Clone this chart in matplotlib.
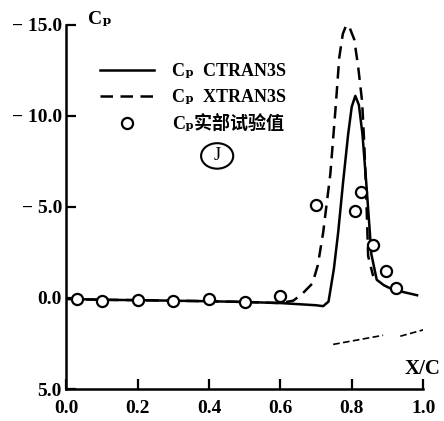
import matplotlib
matplotlib.use('Agg')
import matplotlib.pyplot as plt
from matplotlib.patches import Ellipse

plt.rcParams['font.family'] = ['Liberation Serif', 'DejaVu Serif', 'Noto Sans CJK SC']

# Datos
# CTRAN3S (linea continua)
x_ct = [0.0, 0.1, 0.2, 0.3, 0.4, 0.5, 0.6, 0.7, 0.72, 0.735, 0.75, 0.762, 0.776, 0.79, 0.80, 0.81,
        0.82, 0.83, 0.84, 0.85, 0.855, 0.87, 0.89, 0.916, 0.95, 0.983]
cp_ct = [0.05, 0.1, 0.12, 0.15, 0.18, 0.22, 0.28, 0.4, 0.45, 0.2, -1.6, -3.6, -6.4, -9.0, -10.5, -11.1,
         -10.6, -9.0, -6.5, -3.8, -2.4, -1.0, -0.7, -0.45, -0.3, -0.15]

# XTRAN3S (linea discontinua)
x_xt = [0.0, 0.1, 0.2, 0.3, 0.4, 0.5, 0.6, 0.636, 0.66, 0.69, 0.705, 0.72, 0.74, 0.755, 0.765, 0.775,
        0.785, 0.795, 0.807, 0.818, 0.829, 0.835, 0.84, 0.846, 0.86]
cp_xt = [0.05, 0.1, 0.12, 0.15, 0.18, 0.22, 0.28, 0.15, -0.2, -0.8, -1.8, -3.6, -6.8, -10.5, -13.2, -14.5,
         -15.0, -14.8, -14.2, -12.7, -10.8, -8.5, -6.0, -2.3, -1.2]

# tramo inferior discontinuo
x_low1 = [0.748, 0.888]
cp_low1 = [2.55, 2.05]
x_low2 = [0.936, 1.01]
cp_low2 = [2.1, 1.7]

# Valores experimentales
x_exp = [0.03, 0.10, 0.20, 0.30, 0.40, 0.50, 0.60, 0.70, 0.81, 0.826, 0.86, 0.896, 0.924]
cp_exp = [0.05, 0.17, 0.1, 0.17, 0.05, 0.2, -0.1, -5.1, -4.8, -5.8, -2.9, -1.5, -0.55]

xticks = [0.0, 0.2, 0.4, 0.6, 0.8, 1.0]
xlabels = ['0.0', '0.2', '0.4', '0.6', '0.8', '1.0']
yticks = [-15, -10, -5, 0, 5]
ylabels = ['\u2212 15.0', '\u2212 10.0', '\u2212 5.0', '0.0', '5.0']

fig = plt.figure(figsize=(4.44, 4.21), dpi=100)
ax = fig.add_axes([0.149, 0.076, 0.804, 0.865])

ax.plot(x_ct, cp_ct, 'k-', lw=1.8, label='C\u209a  CTRAN3S')
ax.plot(x_xt, cp_xt, 'k--', lw=1.8, dashes=(5, 3), label='C\u209a  XTRAN3S')
ax.plot(x_low1, cp_low1, 'k--', lw=1.2, dashes=(4, 2))
ax.plot(x_low2, cp_low2, 'k--', lw=1.2, dashes=(4, 2))
ax.plot(x_exp, cp_exp, 'o', ms=8, mfc='white', mec='k', mew=1.6, label='C\u209a实部试验值')

ax.set_xlim(0, 1.0)
ax.set_ylim(5, -15)
ax.set_xticks(xticks)
ax.set_xticklabels(xlabels)
ax.set_yticks(yticks)
ax.set_yticklabels(ylabels)
ax.tick_params(direction='in', length=7, width=1.6, labelsize=14)
ax.tick_params(axis='x', pad=8)
ax.tick_params(axis='y', pad=3)
for t in ax.get_xticklabels() + ax.get_yticklabels():
    t.set_fontweight('bold')

ax.spines['top'].set_visible(False)
ax.spines['right'].set_visible(False)
ax.spines['left'].set_linewidth(1.8)
ax.spines['bottom'].set_linewidth(1.8)

ax.text(0.06, 1.015, 'C\u209a', transform=ax.transAxes, fontsize=14, fontweight='bold', va='center')
ax.text(1.05, 0.055, 'X/C', transform=ax.transAxes, fontsize=15, fontweight='bold', ha='right', va='center')

leg = ax.legend(loc='upper left', bbox_to_anchor=(0.05, 0.94), frameon=False,
                handlelength=3.0, labelspacing=0.5, handletextpad=1.0,
                prop={'weight': 'bold', 'size': 13})

# anotacion a mano
ax.text(0.423, 0.64, 'J', transform=ax.transAxes, fontsize=13, ha='center', va='center')
ax.add_patch(Ellipse((0.423, 0.64), 0.09, 0.07, transform=ax.transAxes, fill=False, lw=1.5, ec='k'))

fig.savefig('out.png', dpi=100)
